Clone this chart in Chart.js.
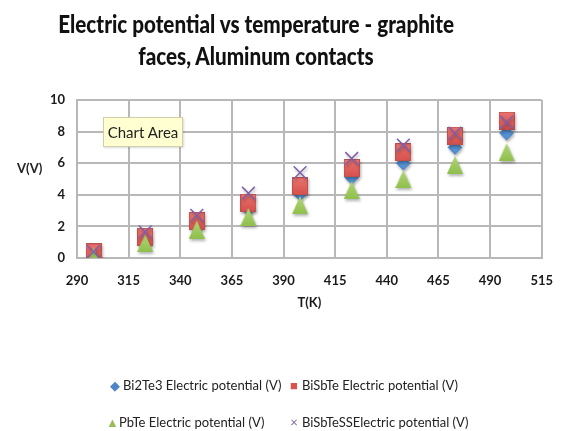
<!DOCTYPE html>
<html>
<head>
<meta charset="utf-8">
<script src="https://cdn.jsdelivr.net/npm/chart.js@4.4.1/dist/chart.umd.min.js"></script>
<style>
  html, body { margin: 0; padding: 0; background: #fff; }
  #wrap { position: relative; width: 568px; height: 431px; overflow: hidden; font-family: Lato, "Open Sans", sans-serif; }
  #c { position: absolute; left: 0; top: 0; }
  #title { position: absolute; left: 0; top: 8px; width: 512px; text-align: center; font-weight: 900; font-size: 24px; line-height: 32px; color: #111; }
  #title span { display: inline-block; transform: scaleX(0.86); transform-origin: center; }
  #ylab { position: absolute; left: 17px; top: 160px; font-weight: 700; font-size: 13px; color: #222; }
  #tip { position: absolute; left: 103px; top: 117px; width: 78px; height: 28px; background: #ffffd2; border: 1px solid #cfcfa8; font-size: 15px; line-height: 28px; text-align: center; color: #222; box-shadow: 1px 1px 2px rgba(0,0,0,0.15); }
  .leg { position: absolute; font-size: 13px; color: #222; white-space: nowrap; }
  .leg .m { display: inline-block; width: 10px; margin-right: 3px; text-align: center; }
</style>
</head>
<body>
<div id="wrap">
  <canvas id="c" width="568" height="431"></canvas>
  <div id="title"></div>
  <div id="ylab">V(V)</div>
  <div id="tip">Chart Area</div>
  <div id="legend"></div>
</div>
<script>
// ---- data ----
const titleLines = ["Electric potential vs temperature - graphite", "faces, Aluminum contacts"];
const xTitle = "T(K)";
const yTitle = "V(V)";
const temperatures = [298, 323, 348, 373, 398, 423, 448, 473, 498];
const bi2te3 = [0.2, 1.1, 2.1, 3.1, 4.05, 5.1, 6.0, 7.0, 7.9];
const bisbte = [0.35, 1.35, 2.35, 3.5, 4.55, 5.7, 6.7, 7.75, 8.7];
const pbte = [0.1, 0.95, 1.8, 2.6, 3.35, 4.3, 5.0, 5.9, 6.7];
const bisbtess = [0.4, 1.65, 2.7, 4.1, 5.4, 6.3, 7.15, 7.9, 8.6];
const seriesNames = ["Bi2Te3 Electric potential (V)", "BiSbTe Electric potential (V)", "PbTe Electric potential (V)", "BiSbTeSSElectric potential (V)"];
const xTicks = [290, 315, 340, 365, 390, 415, 440, 465, 490, 515];
const yTicks = [0, 2, 4, 6, 8, 10];

// ---- page text ----
document.getElementById('title').innerHTML = titleLines.map(t => '<span>' + t + '</span>').join('<br>');
document.getElementById('ylab').textContent = yTitle;

const pts = arr => temperatures.map((t, i) => ({x: t, y: arr[i]}));

// custom marker glyphs
function makeSquare() {
  const c = document.createElement('canvas'); c.width = 16; c.height = 18;
  const g = c.getContext('2d');
  const gr = g.createLinearGradient(0, 0, 0, 18);
  gr.addColorStop(0, '#ea7470'); gr.addColorStop(1, '#d5504c');
  g.fillStyle = gr; g.fillRect(0.5, 0.5, 15, 17);
  g.strokeStyle = '#c0504d'; g.lineWidth = 1; g.strokeRect(0.5, 0.5, 15, 17);
  return c;
}
function makeTriangle() {
  const c = document.createElement('canvas'); c.width = 16; c.height = 18;
  const g = c.getContext('2d');
  const gr = g.createLinearGradient(0, 0, 0, 18);
  gr.addColorStop(0, '#b2d675'); gr.addColorStop(1, '#8fbf4c');
  g.fillStyle = gr;
  g.beginPath(); g.moveTo(8, 0); g.lineTo(16, 18); g.lineTo(0, 18); g.closePath(); g.fill();
  return c;
}

const styles = [
  {pointStyle: 'rectRot', radius: 7, bg: '#5490d4', border: '#4a7ebb', bw: 0.5, sym: '◆', order: 3},
  {pointStyle: makeSquare(), radius: 9, bg: '#e0605c', border: '#c0504d', bw: 1, sym: '■', order: 2},
  {pointStyle: makeTriangle(), radius: 9, bg: '#9cc85a', border: '#8db44f', bw: 0.5, sym: '▲', order: 1},
  {pointStyle: 'crossRot', radius: 9, bg: '#7e5fa8', border: '#7e5fa8', bw: 1.5, sym: '×', order: 0}
];
const values = [bi2te3, bisbte, pbte, bisbtess];

const datasets = values.map((v, i) => ({
  label: seriesNames[i],
  data: pts(v),
  order: styles[i].order,
  showLine: false,
  pointStyle: styles[i].pointStyle,
  pointRadius: styles[i].radius,
  pointHoverRadius: styles[i].radius,
  pointBackgroundColor: styles[i].bg,
  pointBorderColor: styles[i].border,
  pointBorderWidth: styles[i].bw
}));

// legend (HTML)
const legPos = [[110, 377], [289, 377], [106, 414], [289, 414]];
const legColors = ['#4f86c6', '#d9534f', '#9bbb59', '#8064a2'];
const legHtml = seriesNames.map((n, i) =>
  '<div class="leg" style="left:' + legPos[i][0] + 'px;top:' + legPos[i][1] + 'px"><span class="m" style="color:' + legColors[i] + '">' + styles[i].sym + '</span>' + n + '</div>'
).join('');
document.getElementById('legend').innerHTML = legHtml;

const shadowPlugin = {
  id: 'shadow',
  beforeDatasetsDraw(chart) {
    const ctx = chart.ctx;
    ctx.save();
    ctx.shadowColor = 'rgba(0,0,0,0.3)';
    ctx.shadowBlur = 3;
    ctx.shadowOffsetX = 1;
    ctx.shadowOffsetY = 2;
  },
  afterDatasetsDraw(chart) {
    chart.ctx.restore();
  }
};

const gridColor = '#b8b8b8';
new Chart(document.getElementById('c'), {
  type: 'scatter',
  data: { datasets },
  plugins: [shadowPlugin],
  options: {
    responsive: false,
    animation: false,
    events: [],
    layout: { padding: { left: 0, right: 17, top: 100, bottom: 111 } },
    plugins: { legend: { display: false }, tooltip: { enabled: false }, title: { display: false } },
    scales: {
      x: {
        type: 'linear',
        min: xTicks[0], max: xTicks[xTicks.length - 1],
        afterBuildTicks: s => { s.ticks = xTicks.map(v => ({value: v})); },
        afterFit: s => { s.height = 62; },
        grid: { color: gridColor, lineWidth: 2, drawTicks: false },
        border: { color: gridColor, width: 2 },
        ticks: { padding: 15, color: '#1a1a1a', font: { family: 'Lato', size: 13, weight: 'bold' } },
        title: { display: true, text: xTitle, color: '#1a1a1a', padding: { top: 0, bottom: 9 }, font: { family: 'Lato', size: 13, weight: 'bold' } }
      },
      y: {
        type: 'linear',
        min: yTicks[0], max: yTicks[yTicks.length - 1],
        afterBuildTicks: s => { s.ticks = yTicks.map(v => ({value: v})); },
        afterFit: s => { s.width = 77; },
        grid: { color: gridColor, lineWidth: 2, drawTicks: false },
        border: { color: gridColor, width: 2 },
        ticks: { padding: 12, color: '#1a1a1a', font: { family: 'Lato', size: 13, weight: 'bold' } }
      }
    }
  }
});
</script>
</body>
</html>
